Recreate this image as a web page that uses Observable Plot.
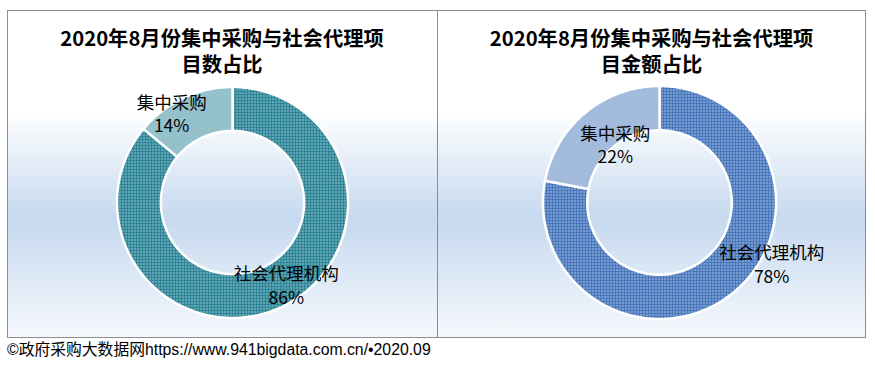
<!DOCTYPE html>
<html><head><meta charset="utf-8">
<script src="https://cdn.jsdelivr.net/npm/d3@7"></script>
<script src="https://cdn.jsdelivr.net/npm/@observablehq/plot@0.6"></script>
<style>
body{margin:0;background:#fff;font-family:"Noto Sans CJK SC","Noto Sans",sans-serif;}
#page{position:relative;width:875px;height:366px;overflow:hidden;background:#fff;}
#frame{position:absolute;left:7px;top:10px;width:859px;height:328px;box-sizing:border-box;border:1px solid #8c8c8c;
 background:linear-gradient(to bottom,#ffffff 0px,#ffffff 100px,#c6d9ef 207px,#f6f9fd 327px);}
#divider{position:absolute;left:437px;top:10px;width:1px;height:328px;background:#8c8c8c;}
.panel{position:absolute;top:10px;height:327px;}
.panel svg{position:absolute;left:0;top:0;}
.title{position:absolute;left:0;right:0;height:26px;text-align:center;font-weight:bold;font-size:20.3px;line-height:26px;color:#000;white-space:nowrap;z-index:2;}
#caption{position:absolute;left:7px;top:341px;font-size:15.8px;line-height:18px;font-family:"Liberation Sans","Noto Sans CJK SC",sans-serif;color:#000;white-space:nowrap;}
</style>
</head>
<body>
<svg width="0" height="0" style="position:absolute">
 <defs>
  <pattern id="tealDots" width="3" height="3" patternUnits="userSpaceOnUse">
   <rect width="3" height="3" fill="#2e8698"/><rect x="1" y="1" width="1" height="1" fill="#ffffff"/>
  </pattern>
  <pattern id="tealCheck" width="2" height="2" patternUnits="userSpaceOnUse">
   <rect width="2" height="2" fill="#ffffff"/><rect width="1" height="1" fill="#2b8397"/><rect x="1" y="1" width="1" height="1" fill="#2b8397"/>
  </pattern>
  <pattern id="blueDots" width="3" height="3" patternUnits="userSpaceOnUse">
   <rect width="3" height="3" fill="#4a7abd"/><rect x="1" y="1" width="1" height="1" fill="#ffffff"/>
  </pattern>
  <pattern id="blueCheck" width="2" height="2" patternUnits="userSpaceOnUse">
   <rect width="2" height="2" fill="#ffffff"/><rect width="1" height="1" fill="#4677bb"/><rect x="1" y="1" width="1" height="1" fill="#4677bb"/>
  </pattern>
 </defs>
</svg>
<div id="page">
 <div id="frame"></div>
 <div id="divider"></div>
 <div id="caption"></div>
</div>
<script>
// ---- data ----
const categories = ["社会代理机构", "集中采购"];
const projectShare = [86, 14];
const amountShare = [78, 22];
const titleLinesLeft = ["2020年8月份集中采购与社会代理项", "目数占比"];
const titleLinesRight = ["2020年8月份集中采购与社会代理项", "目金额占比"];
const captionText = "©政府采购大数据网https://www.941bigdata.com.cn/•2020.09";

// ---- layout (pixels) ----
const H = 327;
const charts = [
  {values: projectShare, title: titleLinesLeft, left: 7, width: 430, cx: 225, cy: 192, r: 115.5, inner: 0.62,
   fills: ["url(#tealDots)", "url(#tealCheck)"], shift: [[14, -3], [-21, -5]]},
  {values: amountShare, title: titleLinesRight, left: 438, width: 427, cx: 221, cy: 192, r: 116.5, inner: 0.62,
   fills: ["url(#blueDots)", "url(#blueCheck)"], shift: [[52, -12], [16, 14]]}
];

document.getElementById("caption").textContent = captionText;
const page = document.getElementById("page");

for (const cfg of charts) {
  const total = d3.sum(cfg.values);
  let acc = 0;
  const slices = cfg.values.map((v, i) => {
    const a0 = acc / total * 2 * Math.PI; acc += v;
    const a1 = acc / total * 2 * Math.PI;
    return {i, v, cat: categories[i], a0, a1, mid: (a0 + a1) / 2};
  });
  const ring = s => {
    const pts = [];
    const n = Math.max(2, Math.ceil((s.a1 - s.a0) / (Math.PI / 180)));
    for (let k = 0; k <= n; k++) { const a = s.a0 + (s.a1 - s.a0) * k / n; pts.push({x: Math.sin(a), y: Math.cos(a)}); }
    for (let k = n; k >= 0; k--) { const a = s.a0 + (s.a1 - s.a0) * k / n; pts.push({x: cfg.inner * Math.sin(a), y: cfg.inner * Math.cos(a)}); }
    return pts;
  };
  const k = cfg.r;
  const rm = (1 + cfg.inner) / 2;
  const plot = Plot.plot({
    width: cfg.width, height: H, margin: 0,
    x: {domain: [-cfg.cx / k, (cfg.width - cfg.cx) / k], axis: null},
    y: {domain: [-(H - cfg.cy) / k, cfg.cy / k], axis: null},
    style: {background: "transparent", overflow: "visible"},
    marks: [
      ...slices.map(s => Plot.line(ring(s), {x: "x", y: "y", curve: "linear-closed", fill: cfg.fills[s.i], stroke: "white", strokeWidth: 2.5})),
      Plot.text(slices, {
        x: s => rm * Math.sin(s.mid) + cfg.shift[s.i][0] / k,
        y: s => rm * Math.cos(s.mid) - cfg.shift[s.i][1] / k,
        text: s => `${s.cat}\n${s.v}%`,
        fontSize: 17.5, lineHeight: 1.35, fill: "#000", textAnchor: "middle",
        fontFamily: "'Noto Sans CJK SC', 'Noto Sans', sans-serif"
      })
    ]
  });
  const panel = document.createElement("div");
  panel.className = "panel";
  panel.style.left = cfg.left + "px";
  panel.style.width = cfg.width + "px";
  panel.appendChild(plot);
  cfg.title.forEach((line, j) => {
    const t = document.createElement("div");
    t.className = "title";
    t.style.top = (14 + 26 * j) + "px";
    t.textContent = line;
    panel.appendChild(t);
  });
  page.appendChild(panel);
}
</script>
</body></html>
